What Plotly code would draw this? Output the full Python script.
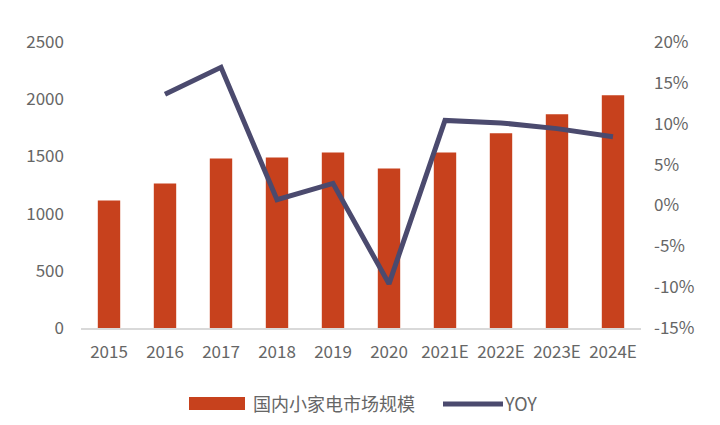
import plotly.graph_objects as go

# data
years = ["2015", "2016", "2017", "2018", "2019", "2020", "2021E", "2022E", "2023E", "2024E"]
market_size = [1114, 1263, 1482, 1491, 1535, 1395, 1535, 1702, 1868, 2035]
yoy = [None, 0.136, 0.169, 0.007, 0.027, -0.096, 0.104, 0.101, 0.094, 0.084]
yoy_ticks = [-0.15, -0.10, -0.05, 0.0, 0.05, 0.10, 0.15, 0.20]
yoy_labels = ["-15%", "-10%", "-5%", "0%", "5%", "10%", "15%", "20%"]

bar_color = "#C7411D"
line_color = "#4B4A6E"
text_color = "#666666"
font_family = "Noto Sans CJK SC, Noto Sans, sans-serif"

fig = go.Figure()
fig.add_trace(go.Bar(x=years, y=market_size, name="国内小家电市场规模",
                     marker=dict(color=bar_color, line=dict(width=0)), width=0.4))
fig.add_trace(go.Scatter(x=years, y=yoy, name="YOY", yaxis="y2", mode="lines",
                         line=dict(color=line_color, width=5), connectgaps=False))

# page has an 8px body margin, so the figure is a bit smaller than the window
fig.update_layout(
    width=712, height=417,
    margin=dict(l=73, r=79, t=34, b=97),
    paper_bgcolor="white", plot_bgcolor="white",
    font=dict(family=font_family, size=17, color=text_color),
    showlegend=False,
    xaxis=dict(showgrid=False, showline=True, linecolor="#D9D9D9", linewidth=2,
               ticks="", ticklabelstandoff=8, tickfont=dict(size=17)),
    yaxis=dict(range=[0, 2500], dtick=500, showgrid=False, zeroline=False,
               ticks="", ticklabelstandoff=16, tickfont=dict(size=17)),
    yaxis2=dict(range=[-0.15, 0.20], tickvals=yoy_ticks, ticktext=yoy_labels, overlaying="y",
                side="right", showgrid=False, zeroline=False, ticks="",
                ticklabelstandoff=12, tickfont=dict(size=17)),
)

# legend drawn by hand to get the wide swatches of the original
# helpers take page pixels of the reference
def py(ypix):
    return (328 - ypix) / 286

def px_(xpix):
    return (xpix - 81) / 560

fig.add_shape(type="rect", xref="paper", yref="paper", x0=px_(189), x1=px_(245),
              y0=py(410), y1=py(397), fillcolor=bar_color, line=dict(width=0))
fig.add_annotation(text="国内小家电市场规模", xref="paper", yref="paper", x=px_(251),
                   y=py(403), xanchor="left", yanchor="middle", showarrow=False,
                   font=dict(size=18, color=text_color))
fig.add_shape(type="line", xref="paper", yref="paper", x0=px_(443), x1=px_(503),
              y0=py(404), y1=py(404), line=dict(color=line_color, width=5))
fig.add_annotation(text="YOY", xref="paper", yref="paper", x=px_(502),
                   y=py(403), xanchor="left", yanchor="middle", showarrow=False,
                   font=dict(size=18, color=text_color))

fig.write_html("out.html")
